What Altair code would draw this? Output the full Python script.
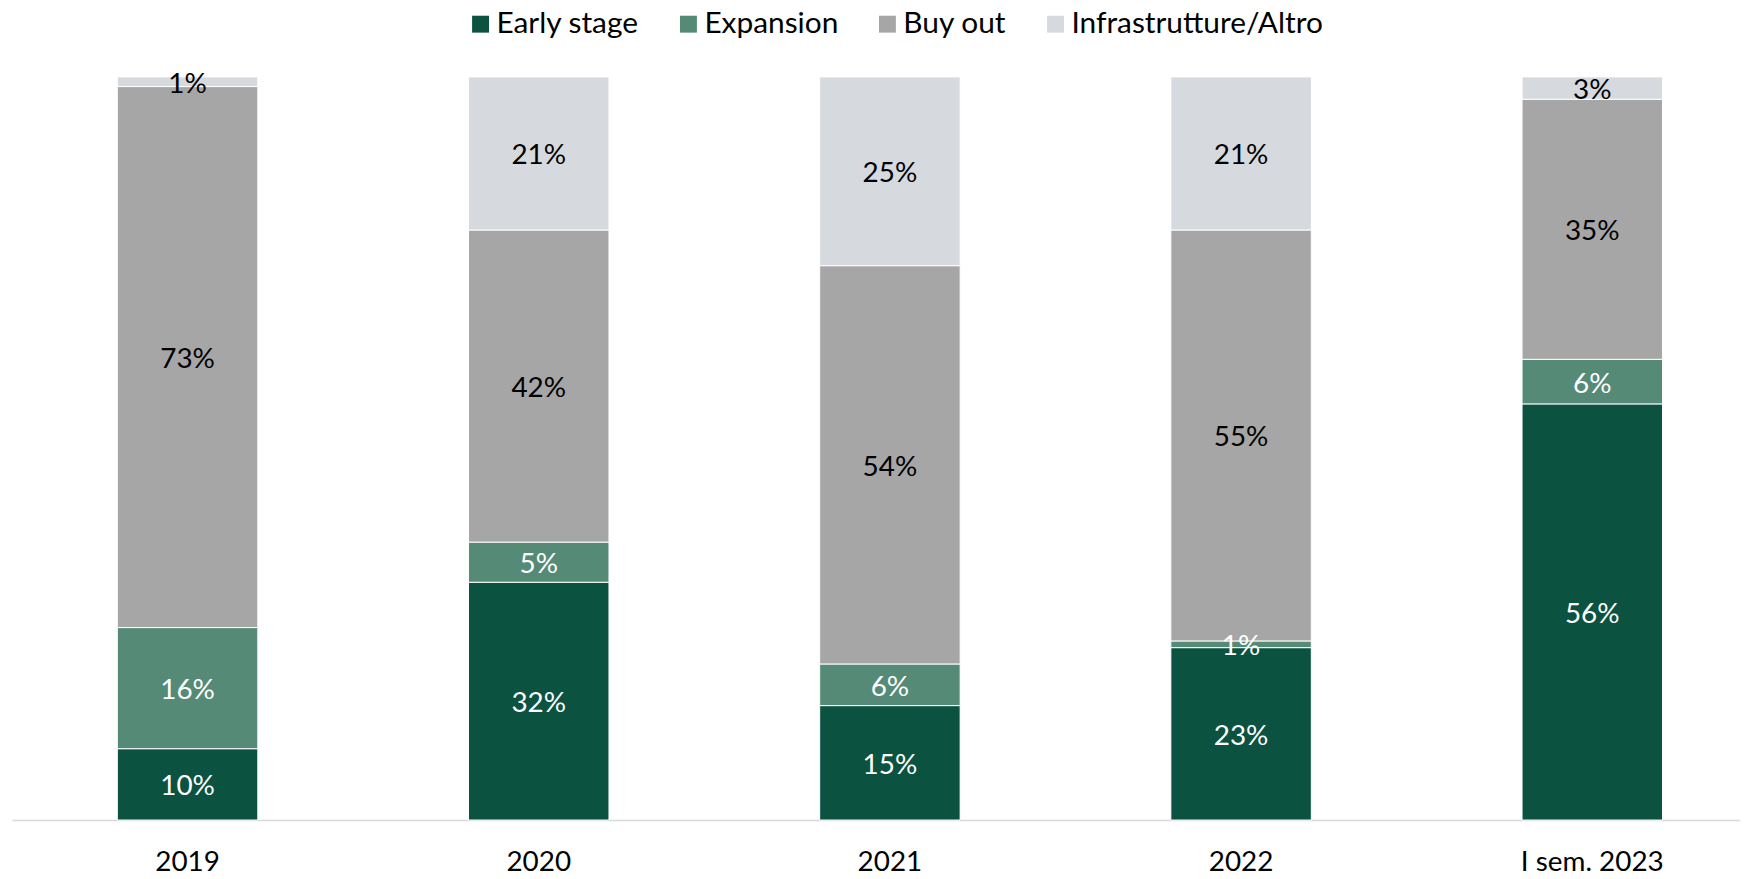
import altair as alt
import pandas as pd

years = ["2019", "2020", "2021", "2022", "I sem. 2023"]
categories = ["Early stage", "Expansion", "Buy out", "Infrastrutture/Altro"]
early_stage = [9.6, 32.0, 15.4, 23.2, 56.0]
expansion = [16.3, 5.4, 5.6, 0.9, 6.0]
buy_out = [72.8, 42.0, 53.6, 55.3, 35.0]
infra_altro = [1.3, 20.6, 25.4, 20.6, 3.0]
colors = ["#0B5240", "#558A77", "#A6A6A6", "#D6D9DD"]
text_colors = ["white", "white", "black", "black"]

series = [early_stage, expansion, buy_out, infra_altro]
rows = []
for ci, (cat, vals) in enumerate(zip(categories, series)):
    for yi, yr in enumerate(years):
        rows.append({"year": yr, "cat": cat, "order": ci, "value": vals[yi],
                     "tc": text_colors[ci]})
df = pd.DataFrame(rows)

FONT = "Lato"

base = alt.Chart(df).transform_window(
    cum="sum(value)", groupby=["year"], sort=[alt.SortField("order")],
    frame=[None, 0]
).transform_calculate(
    start="datum.cum - datum.value",
    mid="datum.cum - datum.value / 2",
    label="format(datum.value, '.0f') + '%'"
)

xenc = alt.X("year:N", sort=years, title=None,
             scale=alt.Scale(range=[0, 1765], paddingInner=0.6, paddingOuter=0.3),
             axis=alt.Axis(labelAngle=0, ticks=False, domainColor="#D9D9D9",
                           domainWidth=1.5, labelFontSize=28, labelFont=FONT,
                           labelColor="black", labelPadding=29, grid=False))

yscale = alt.Scale(domain=[0, 100])

bars = base.mark_bar(stroke="white", strokeWidth=1).encode(
    x=xenc,
    y=alt.Y("start:Q", scale=yscale, axis=None),
    y2="cum:Q",
    color=alt.Color("cat:N", sort=categories,
                    scale=alt.Scale(domain=categories, range=colors),
                    legend=alt.Legend(title=None, orient="none", direction="horizontal",
                                      legendX=456, legendY=-68, labelFontSize=30,
                                      labelFont=FONT, labelColor="black", labelLimit=400,
                                      symbolType="square", symbolSize=289,
                                      symbolStrokeWidth=0, columnPadding=34,
                                      labelOffset=1, padding=0)),
)

labels = base.mark_text(fontSize=28, font=FONT, baseline="middle", dy=3).encode(
    x=alt.X("year:N", sort=years),
    y=alt.Y("mid:Q", scale=yscale),
    text="label:N",
    color=alt.Color("tc:N", scale=None),
)

chart = alt.layer(bars, labels).properties(
    width=1737, height=747,
    autosize=alt.AutoSizeParams(type="none"),
    padding={"left": 4, "top": 67, "right": 0, "bottom": 57},
).configure_view(stroke=None)

chart.save("out.html", embed_options={"renderer": "svg", "actions": False})
